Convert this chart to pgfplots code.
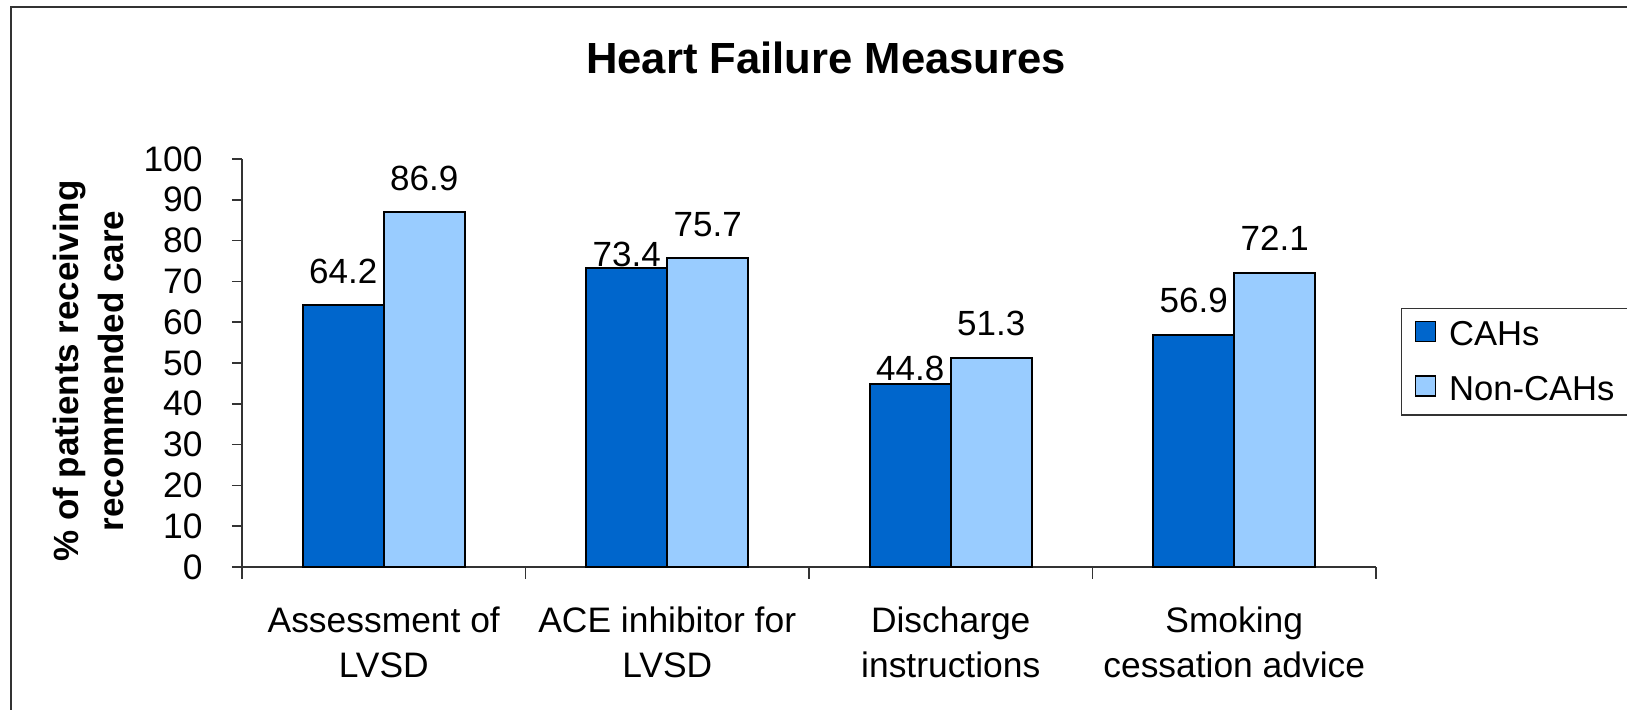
\documentclass[border=0pt]{standalone}
\usepackage{pgfplots}
\pgfplotsset{compat=1.18}
\usepackage{fontspec}
\setmainfont{Liberation Sans}
\definecolor{cah}{HTML}{0066CC}
\definecolor{noncah}{HTML}{99CCFF}
\begin{document}
\begin{tikzpicture}
\path[use as bounding box] (0,0) rectangle (813.5pt,355pt);
\draw[black!80, line width=1pt] (5.5pt,0pt) -- (5.5pt,351.5pt) -- (813.5pt,351.5pt);
\node[anchor=base, font=\bfseries\fontsize{21.8}{26}\selectfont, inner sep=0pt] at (413pt,318pt) {Heart Failure Measures};
\node[rotate=90, align=center, inner sep=0pt, font=\bfseries\fontsize{17.5}{22.5}\selectfont] at (44pt,169.5pt) {\% of patients receiving\\recommended care};
\begin{axis}[
  at={(121pt,71.5pt)}, anchor=south west,
  scale only axis, width=567pt, height=204pt,
  xmin=0, xmax=4, ymin=0, ymax=100,
  axis x line*=bottom, axis y line*=left,
  axis line style={black!80, line width=0.8pt},
  xtick={0.5,1.5,2.5,3.5},
  xticklabels={{Assessment of\\LVSD},{ACE inhibitor for\\LVSD},{Discharge\\instructions},{Smoking\\cessation advice}},
  minor xtick={0,1,2,3,4},
  major x tick style={draw=none},
  minor x tick style={black!80, line width=0.8pt},
  ytick={0,10,...,100},
  y tick style={black!80, line width=0.8pt},
  tick align=outside,
  major tick length=5pt, minor tick length=6pt,
  xticklabel style={font=\fontsize{17.7}{22.5}\selectfont, align=center, anchor=north, inner sep=0pt, yshift=-14.6pt},
  yticklabel style={font=\fontsize{17.7}{20}\selectfont, anchor=east, inner sep=0pt, xshift=-14.5pt},
  /pgf/number format/assume math mode=true,
  clip=false,
  legend style={at={(1.022,0.635)}, anchor=north west, draw=black!80, line width=0.6pt,
    font=\fontsize{17.3}{20}\selectfont, inner xsep=6.5pt, inner ysep=6pt, row sep=13.5pt,
    nodes={inner sep=0pt}, /tikz/every odd column/.append style={column sep=6.5pt}},
  legend cell align=left,
  legend image code/.code={\draw[#1, line width=0.8pt] (0pt,-3.3pt) rectangle (10pt,6.7pt);},
]
\addplot[ybar, bar width=0.286, bar shift=0pt, fill=cah, draw=black, line width=1pt,
  visualization depends on={value \thisrow{off}\as\myoff},
  nodes near coords,
  nodes near coords style={anchor=base, yshift=\myoff pt, font=\fontsize{17.5}{20}\selectfont, black}]
  table[x=x, y=y]{
  x     y    off
  0.357 64.2 11
  1.357 73.4 0.5
  2.357 44.8 2
  3.357 56.9 11
  };
\addlegendentry{CAHs}
\addplot[ybar, bar width=0.286, bar shift=0pt, fill=noncah, draw=black, line width=1pt,
  visualization depends on={value \thisrow{off}\as\myoff},
  nodes near coords,
  nodes near coords style={anchor=base, yshift=\myoff pt, font=\fontsize{17.5}{20}\selectfont, black}]
  table[x=x, y=y]{
  x     y    off
  0.643 86.9 11
  1.643 75.7 11
  2.643 51.3 11
  3.643 72.1 11
  };
\addlegendentry{Non-CAHs}
\end{axis}
\end{tikzpicture}
\end{document}
